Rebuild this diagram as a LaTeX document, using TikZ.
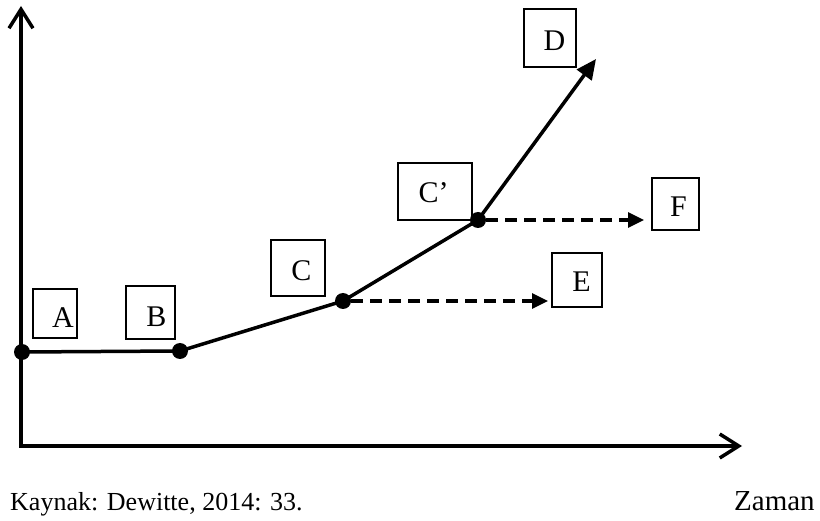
\documentclass[tikz,border=0pt]{standalone}
\usepackage{fontspec}
\setmainfont{Liberation Serif}
\usetikzlibrary{arrows.meta}
\begin{document}
\begin{tikzpicture}[x=1pt,y=-1pt,
  lbl/.style={inner sep=0pt,font=\fontsize{30}{33}\selectfont},
  stagebox/.style={draw,line width=1.4pt,inner sep=0pt},
  dot/.style={circle,fill,inner sep=0pt,minimum size=16pt},
  curve/.style={line width=3.5pt},
  dashline/.style={line width=3.2pt,dash pattern=on 12pt off 7pt,-{Triangle[length=16pt,width=15pt]}},
  axis/.style={line width=3.5pt,line join=miter,{Straight Barb[length=19pt,width=24pt]}-{Straight Barb[length=19pt,width=24pt]}}
]
\useasboundingbox (0,0) rectangle (820,521);
% axes
\coordinate (ytop) at (21,6);
\coordinate (orig) at (21,446);
\coordinate (xend) at (742,446);
\draw[axis] (ytop) -- (orig) -- (xend);
% boxes
\node[stagebox,minimum width=44pt,minimum height=49pt] (boxA) at (55,313.5) {};
\node[stagebox,minimum width=49pt,minimum height=53pt] (boxB) at (150.5,312.5) {};
\node[stagebox,minimum width=54pt,minimum height=56pt] (boxC) at (298,268) {};
\node[stagebox,minimum width=74pt,minimum height=57pt] (boxCp) at (435,191.5) {};
\node[stagebox,minimum width=52pt,minimum height=58pt] (boxD) at (550,38) {};
\node[stagebox,minimum width=50pt,minimum height=54pt] (boxE) at (577,280) {};
\node[stagebox,minimum width=47pt,minimum height=52pt] (boxF) at (675.5,204) {};
% letters
\node[lbl] (tA) at (63,318) {A};
\node[lbl] (tB) at (156.5,316.5) {B};
\node[lbl] (tC) at (301.5,271) {C};
\node[lbl] (tCp) at (433.5,193) {C’};
\node[lbl] (tD) at (554.5,41) {D};
\node[lbl] (tE) at (581.5,282) {E};
\node[lbl] (tF) at (678.5,207) {F};
% points
\node[dot] (pA) at (22,352) {};
\node[dot] (pB) at (180,351) {};
\node[dot] (pC) at (343,301) {};
\node[dot] (pCp) at (478,220) {};
\coordinate (Dtip) at (596,59);
\coordinate (Etip) at (548,301);
\coordinate (Ftip) at (644,220);
\draw[curve,line join=round] (pA.center) -- (pB.center) -- (pC.center) -- (pCp.center);
\draw[curve,-{Triangle[length=20pt,width=18pt]}] (pCp.center) -- (Dtip);
\draw[dashline] (pC.east) -- (Etip);
\draw[dashline] (pCp.east) -- (Ftip);
% captions
\node[inner sep=0pt,anchor=base west,font=\fontsize{26}{30}\selectfont] (src) at (10,511) {Kaynak: Dewitte, 2014: 33.};
\node[inner sep=0pt,anchor=base west,font=\fontsize{29}{32}\selectfont] (zaman) at (734,511) {Zaman};
\end{tikzpicture}
\end{document}
